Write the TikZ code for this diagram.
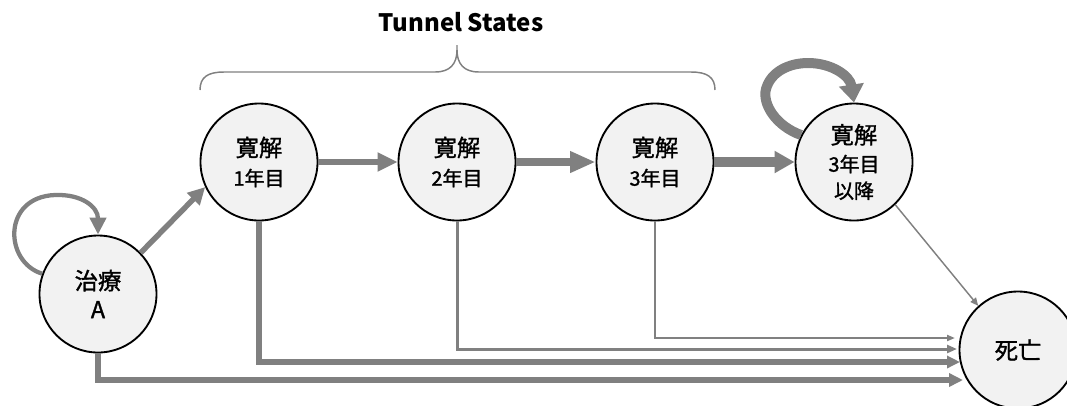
\documentclass[tikz,border=0pt]{standalone}
\usepackage{fontspec}
\newfontfamily\jp{Noto Sans CJK JP}
\newfontfamily\jpm[FakeBold=1.3]{Noto Sans CJK JP}
\usetikzlibrary{arrows.meta}
\definecolor{lg}{HTML}{808080}
\definecolor{cf}{HTML}{F2F2F2}
\newcommand\bigtxt[1]{{\fontsize{17.5}{22}\selectfont #1}}
\newcommand\smtxt[1]{{\fontsize{15}{22}\selectfont #1}}
\begin{document}
\begin{tikzpicture}[x=0.75pt,y=-0.75pt,
  st/.style={circle,draw=black,line width=1.4pt,fill=cf,minimum size=87.75pt,inner sep=0pt,align=center,font=\jpm\fontsize{17.5}{22}\selectfont},
  con/.style={draw=lg,line join=miter},
  brace/.style={draw=lg,line width=1.1pt}]
\useasboundingbox (0,0) rectangle (1067,405);

% nodes
\node[st] (A) at (98,294) {\bigtxt{治療}\\[-0.5pt]\bigtxt{A}};
\node[st] (r1) at (259,162) {\bigtxt{寛解}\\\smtxt{1年目}};
\node[st] (r2) at (457,162) {\bigtxt{寛解}\\\smtxt{2年目}};
\node[st] (r3) at (655,162) {\bigtxt{寛解}\\\smtxt{3年目}};
\node[st] (r4) at (854,162) {\bigtxt{寛解}\\[-1pt]\smtxt{3年目}\\[-2pt]\smtxt{以降}};
\node[st] (d) at (1018,350) {\bigtxt{死亡}};

\node[font=\jp\bfseries\fontsize{18}{22}\selectfont] (title) at (461,22) {Tunnel States};

% brace
\draw[brace] (200,90) .. controls (200,77) and (208,72) .. (224,72) -- (435,72)
  .. controls (450,72) and (457,64) .. (457,50) -- (457,45);
\draw[brace] (457,50) .. controls (457,64) and (464,72) .. (479,72) -- (691,72)
  .. controls (707,72) and (715,77) .. (715,90);

% coordinates for free ends
\coordinate (e3) at (955,338);
\coordinate (e2) at (957,349);
\coordinate (e1) at (960,362);
\coordinate (e0) at (963,380);

% self loops
\draw[con,line width=3.2pt,-{Triangle[width=12pt,length=12.75pt]}]
  (A.160) .. controls (4,262) and (2,197) .. (55,195)
  .. controls (82,194) and (98,207) .. (A.north);
\draw[con,line width=7.5pt,-{Triangle[width=18pt,length=13.5pt]}]
  (r4.153) .. controls (776,126) and (762,104) .. (766,89)
  .. controls (771,71) and (790,63) .. (808,63)
  .. controls (832,63) and (850,76) .. (r4.north);

% forward chain
\draw[con,line width=4.1pt,-{Triangle[width=12.75pt,length=12.75pt]}] (A.44) -- (r1.205);
\draw[con,line width=4.5pt,-{Triangle[width=13.5pt,length=15pt]}] (r1) -- (r2);
\draw[con,line width=6pt,-{Triangle[width=15pt,length=19pt]}] (r2) -- (r3);
\draw[con,line width=7.5pt,-{Triangle[width=15.75pt,length=15pt]}] (r3) -- (r4);

% to death
\draw[con,line width=1.1pt,-{Triangle[width=5.25pt,length=6pt]}] (r4.-46) -- (d.132);
\draw[con,line width=1.5pt,-{Triangle[width=4.5pt,length=6pt]}] (r3.south) |- (e3);
\draw[con,line width=2.25pt,-{Triangle[width=6pt,length=7.5pt]}] (r2.south) |- (e2);
\draw[con,line width=4.5pt,-{Triangle[width=9pt,length=9.75pt]}] (r1.south) |- (e1);
\draw[con,line width=4.9pt,-{Triangle[width=9.75pt,length=10.5pt]}] (A.south) |- (e0);
\end{tikzpicture}
\end{document}
